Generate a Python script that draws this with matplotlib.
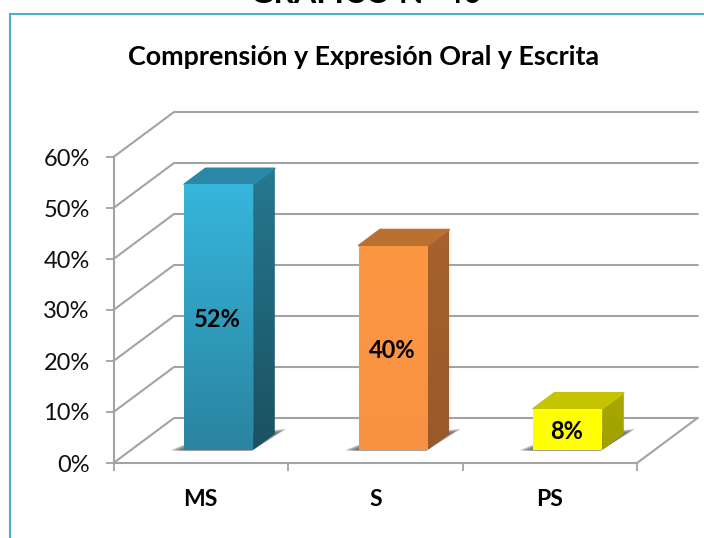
import numpy as np
import matplotlib
matplotlib.use("Agg")
import matplotlib.pyplot as plt
from matplotlib.colors import LinearSegmentedColormap
from matplotlib.lines import Line2D
from matplotlib.patches import Polygon

plt.rcParams['font.family'] = ['Lato', 'DejaVu Sans']

categories = ['MS', 'S', 'PS']
values = [52, 40, 8]
y_ticks = [0, 10, 20, 30, 40, 50, 60]
y_labels = ['0%', '10%', '20%', '30%', '40%', '50%', '60%']
chart_title = 'Comprensión y Expresión Oral y Escrita'
page_title = 'GRÁFICO N° 40'

# front colours go top -> bottom, the side too
front_cols = [('#36B6DC', '#2A84A0'), ('#FC9844', '#F79242'), ('#FFFF00', '#FFFF00')]
side_cols = [('#26788F', '#1A5161'), ('#A5622E', '#99592A'), ('#A8A800', '#A0A000')]
top_cols = ['#2A87A5', '#BA7030', '#C4C400']

W, H = 704, 538
x0, x1 = 113.5, 637.0
y0, y60 = 463.0, 157.0
line_col = '#A3A3A3'

fig = plt.figure(figsize=(W / 100, H / 100), dpi=100)
ax = fig.add_axes([x0 / W, 1 - y0 / H, (x1 - x0) / W, (y0 - y60) / H])
ax.set_xlim(0, 3)
ax.set_ylim(0, 60)
ax.patch.set_alpha(0)

# depth of the fake 3d box, in data units
dx = 60.5 / ((x1 - x0) / 3)
dy = 45 / ((y0 - y60) / 60)
bar_w = 0.395
d_front, d_back = 0.3, 0.65


def proj(x, y, d):
    return x + dx * d, y + dy * d


def gradient_poly(pts, c_top, c_bot, z):
    cm = LinearSegmentedColormap.from_list('g', [c_top, c_bot])
    pts = np.array(pts)
    poly = Polygon(pts, closed=True, fc=c_bot, ec='none', transform=ax.transData, zorder=z)
    ax.add_patch(poly)
    im = ax.imshow(np.linspace(0, 1, 128).reshape(-1, 1), cmap=cm, aspect='auto', zorder=z,
                   extent=[pts[:, 0].min(), pts[:, 0].max(), pts[:, 1].min(), pts[:, 1].max()])
    im.set_clip_path(poly)


# grid: floor/wall diagonals and back wall lines
for t in y_ticks:
    bx, by = proj(0, t, 1)
    ex, ey = proj(3, t, 1)
    ax.plot([0, bx, ex], [t, by, ey], color=line_col, lw=1.5, zorder=1, clip_on=False,
            solid_joinstyle='miter')
rx, ry = proj(3, 0, 1)
ax.plot([3, rx], [0, ry], color=line_col, lw=1.5, zorder=1, clip_on=False)

for i, (v, cat) in enumerate(zip(values, categories)):
    xl = i + 0.5 - bar_w / 2
    xr = i + 0.5 + bar_w / 2

    # soft shadow on the floor, several see-through layers
    for k in range(7):
        t = (7 - k) / 7
        sh = [proj(xl - 0.075 * t, 0, d_front - 0.02), proj(xr, 0, d_front - 0.02),
              proj(xr + 0.03 * t, 0, d_back + 0.11 * t), proj(xl, 0, d_front + 0.25 * t)]
        ax.add_patch(Polygon(sh, closed=True, fc='#6A6A6A', ec='none', alpha=0.3, zorder=2,
                             clip_on=False))

    fl, fr = proj(xl, 0, d_front), proj(xr, 0, d_front)
    br = proj(xr, 0, d_back)
    tl, tr = proj(xl, v, d_front), proj(xr, v, d_front)
    bt_r, bt_l = proj(xr, v, d_back), proj(xl, v, d_back)

    # side, top, front
    gradient_poly([fr, br, bt_r, tr], side_cols[i][0], side_cols[i][1], 3)
    ax.add_patch(Polygon([tl, tr, bt_r, bt_l], closed=True, fc=top_cols[i], ec=top_cols[i],
                         lw=1.5, joinstyle='round', zorder=3.2))
    gradient_poly([fl, fr, tr, tl], front_cols[i][0], front_cols[i][1], 4)

    lx, ly = proj(i + 0.5, v / 2, d_front)
    ax.annotate(f'{v}%', (lx, ly), xytext=(-1, -2), textcoords='offset points', ha='center',
                va='center', fontsize=17, fontweight='bold', color='black', zorder=6)

ax.set_xlim(0, 3)
ax.set_ylim(0, 60)

for s in ['top', 'right']:
    ax.spines[s].set_visible(False)
for s in ['left', 'bottom']:
    ax.spines[s].set_color(line_col)
    ax.spines[s].set_linewidth(1.5)

ax.set_yticks(y_ticks)
ax.set_yticklabels(y_labels)
ax.tick_params(axis='y', length=6, width=1.3, color=line_col, pad=11, labelsize=17, labelcolor='#111111')
ax.set_xticks([0, 1, 2, 3])
ax.set_xticklabels([])
ax.tick_params(axis='x', which='major', length=6, width=1.3, color=line_col)
ax.set_xticks([0.5, 1.5, 2.5], minor=True)
ax.set_xticklabels(categories, minor=True, fontsize=16.5, fontweight='bold')
ax.tick_params(axis='x', which='minor', length=0, pad=19)

# page bits around the chart
fig.text(364 / W, 1 - 57 / H, chart_title, ha='center', va='center', fontsize=19.4, fontweight='bold')
fig.text(366 / W, 1 - 3 / H, page_title, ha='center', va='baseline', fontsize=23, fontweight='bold')
frame = '#4FAEC8'
fig.add_artist(Line2D([10 / W, 10 / W, 1], [0, 1 - 14 / H, 1 - 14 / H], color=frame, lw=1.5,
                      solid_joinstyle='miter'))

fig.savefig('out.png', dpi=100)
